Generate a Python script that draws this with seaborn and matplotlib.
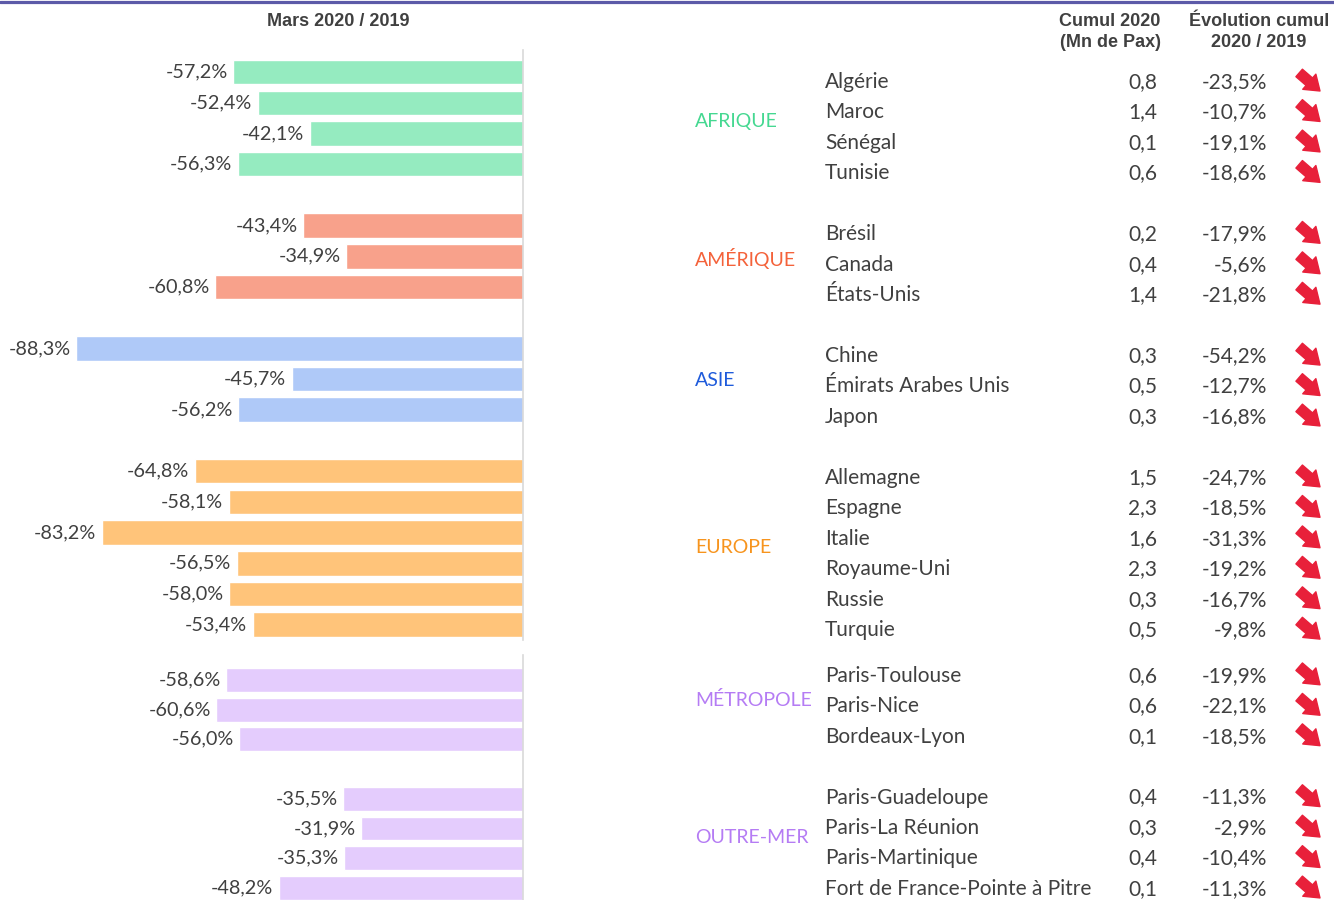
"""Horizontal bars (Mars 2020 / 2019) with a side table of cumulative traffic"""
import matplotlib
matplotlib.use("Agg")
import matplotlib.pyplot as plt
import matplotlib.transforms as mtransforms
import pandas as pd
import seaborn as sns

# ---- data -----------------------------------------------------------------
top_regions = ["AFRIQUE", "AMÉRIQUE", "ASIE", "EUROPE"]
top_countries = [
    ["Algérie", "Maroc", "Sénégal", "Tunisie"],
    ["Brésil", "Canada", "États-Unis"],
    ["Chine", "Émirats Arabes Unis", "Japon"],
    ["Allemagne", "Espagne", "Italie", "Royaume-Uni", "Russie", "Turquie"],
]
top_mars = [
    [-57.2, -52.4, -42.1, -56.3],
    [-43.4, -34.9, -60.8],
    [-88.3, -45.7, -56.2],
    [-64.8, -58.1, -83.2, -56.5, -58.0, -53.4],
]
top_cumul = [
    [0.8, 1.4, 0.1, 0.6],
    [0.2, 0.4, 1.4],
    [0.3, 0.5, 0.3],
    [1.5, 2.3, 1.6, 2.3, 0.3, 0.5],
]
top_evol = [
    [-23.5, -10.7, -19.1, -18.6],
    [-17.9, -5.6, -21.8],
    [-54.2, -12.7, -16.8],
    [-24.7, -18.5, -31.3, -19.2, -16.7, -9.8],
]

bottom_regions = ["MÉTROPOLE", "OUTRE-MER"]
bottom_countries = [
    ["Paris-Toulouse", "Paris-Nice", "Bordeaux-Lyon"],
    ["Paris-Guadeloupe", "Paris-La Réunion", "Paris-Martinique",
     "Fort de France-Pointe à Pitre"],
]
bottom_mars = [
    [-58.6, -60.6, -56.0],
    [-35.5, -31.9, -35.3, -48.2],
]
bottom_cumul = [
    [0.6, 0.6, 0.1],
    [0.4, 0.3, 0.4, 0.1],
]
bottom_evol = [
    [-19.9, -22.1, -18.5],
    [-11.3, -2.9, -10.4, -11.3],
]

bar_colors = {"AFRIQUE": "#95EBC0", "AMÉRIQUE": "#F8A18B", "ASIE": "#AFC9F8",
              "EUROPE": "#FFC47A", "MÉTROPOLE": "#E4CCFD", "OUTRE-MER": "#E4CCFD"}
text_colors = {"AFRIQUE": "#45D891", "AMÉRIQUE": "#F4623A", "ASIE": "#1F5BDB",
               "EUROPE": "#F7941D", "MÉTROPOLE": "#B57CF4", "OUTRE-MER": "#B57CF4"}

W, H = 1334, 900
GREY = "#404040"
BODY = ["Lato", "DejaVu Sans"]
HEAD = ["Liberation Sans", "DejaVu Sans"]
ROW_PX = 30.45  # table row height in pixels


def fr(v, dec=1, pct=False):
    s = f"{v:.{dec}f}".replace(".", ",")
    return s + "%" if pct else s


def build(regions, countries, mars, cumul, evol):
    rows = []
    pos = 0
    for r, cs, ms, cu, ev in zip(regions, countries, mars, cumul, evol):
        for c, m, k, e in zip(cs, ms, cu, ev):
            rows.append(dict(region=r, country=c, mars=m, cumul=k, evol=e, pos=pos))
            pos += 1
        pos += 1  # empty row between groups
    return pd.DataFrame(rows)


def draw_bars(ax, df):
    sns.barplot(data=df, x="mars", y="pos", hue="region", palette=bar_colors,
                orient="y", native_scale=True, dodge=False, width=0.8,
                legend=False, saturation=1, ax=ax)
    for cont in ax.containers:
        ax.bar_label(cont, fmt=lambda v: fr(v, pct=True), padding=4,
                     fontsize=14.3, color=GREY, family=BODY)
    ax.set_xlim(-103.3, 0)
    ax.set_xlabel("")
    ax.set_ylabel("")
    ax.set_xticks([])
    ax.set_yticks([])
    for s in ["top", "left", "bottom"]:
        ax.spines[s].set_visible(False)
    ax.spines["right"].set_color("#D9D9D9")
    ax.spines["right"].set_linewidth(1.2)


def draw_table(fig, tab, df):
    tr = mtransforms.blended_transform_factory(fig.transFigure, tab.transData)
    kw = dict(transform=tr, va="center", fontsize=15, color=GREY, family=BODY)
    for r in df.region.unique():
        sub = df[df.region == r]
        tab.text(695 / W, sub.t.mean() - 0.2, r, ha="left", va="center",
                 transform=tr, fontsize=14, color=text_colors[r], family=BODY)
    for _, row in df.iterrows():
        tab.text(825 / W, row.t, row.country, ha="left", **kw)
        tab.text(1157 / W, row.t, fr(row.cumul), ha="right", **kw)
        tab.text(1267 / W, row.t, fr(row.evol, pct=True), ha="right", **kw)
        tab.annotate("", xy=(1320 / W, row.t + 9 / ROW_PX), xycoords=tr,
                     xytext=(-15, 13), textcoords="offset points",
                     arrowprops=dict(arrowstyle="simple,head_length=0.6,head_width=0.85,tail_width=0.42",
                                     color="#E8203A", shrinkA=0, shrinkB=0,
                                     mutation_scale=17))


def main():
    sns.set_style("white")
    fig = plt.figure(figsize=(W / 100, H / 100), dpi=100)

    top = build(top_regions, top_countries, top_mars, top_cumul, top_evol)
    bot = build(bottom_regions, bottom_countries, bottom_mars, bottom_cumul, bottom_evol)

    ax1 = fig.add_axes([0, 1 - 640 / H, 523 / W, 590 / H])
    draw_bars(ax1, top)
    ax1.set_ylim(18.5, -0.72)

    ax2 = fig.add_axes([0, 0, 523 / W, 245 / H])
    draw_bars(ax2, bot)
    ax2.set_ylim(7.41, -0.84)

    # table rows: the French block sits half a row closer to Europe
    top["t"] = top.pos.astype(float)
    bot["t"] = bot.pos + top.pos.max() + 1.5
    table = pd.concat([top, bot], ignore_index=True)

    tab = fig.add_axes([0, 0, 1, 1], zorder=-1)
    tab.axis("off")
    tab.set_ylim((H - 82) / ROW_PX, -82 / ROW_PX)
    draw_table(fig, tab, table)

    # headers
    fig.text(338 / W, 1 - 21 / H, "Mars 2020 / 2019", ha="center", va="center",
             fontsize=13, fontweight="bold", color=GREY, family=HEAD)
    fig.text(1110 / W, 1 - 32 / H, "Cumul 2020\n(Mn de Pax)", ha="center",
             va="center", fontsize=13, fontweight="bold", color=GREY,
             family=HEAD, linespacing=1.25)
    fig.text(1259 / W, 1 - 32 / H, "Évolution cumul\n2020 / 2019", ha="center",
             va="center", fontsize=13, fontweight="bold", color=GREY,
             family=HEAD, linespacing=1.25)

    fig.add_artist(plt.Line2D([0, 1], [1 - 1.5 / H] * 2, lw=2.3,
                              color="#5C5AA8", transform=fig.transFigure))

    fig.savefig("out.png", dpi=100)


if __name__ == "__main__":
    main()
